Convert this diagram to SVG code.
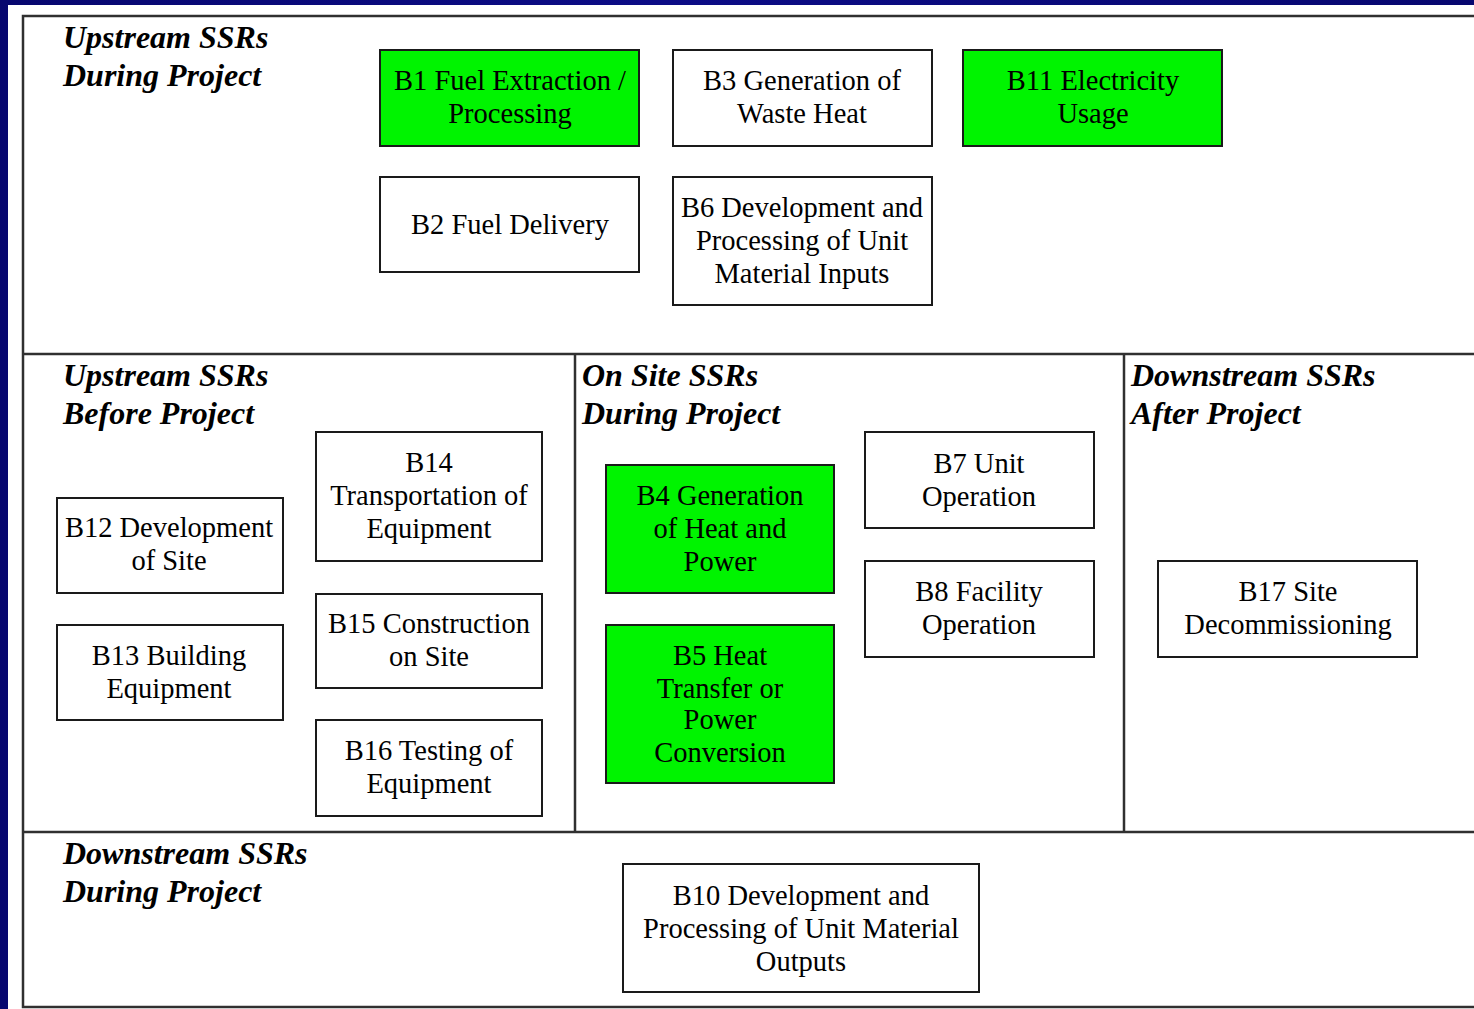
<svg xmlns="http://www.w3.org/2000/svg" width="1474" height="1009" viewBox="0 0 1474 1009">
  <defs>
    <style>
      .frame { fill: none; stroke: #303030; stroke-width: 2.5; }
      .box { fill: #ffffff; stroke: #1a1a1a; stroke-width: 2; }
      .box.hot { fill: #00f400; }
      .title { font-family: "Liberation Serif", "Times New Roman", serif; font-size: 32px; font-weight: bold; font-style: italic; fill: #000; }
      .lbl { font-family: "Liberation Serif", "Times New Roman", serif; font-size: 28.5px; fill: #000; text-anchor: middle; }
    </style>
    <linearGradient id="sky" x1="0" y1="0" x2="1" y2="0">
      <stop offset="0" stop-color="#07076f"/>
      <stop offset="0.45" stop-color="#0c0c86"/>
      <stop offset="1" stop-color="#07076f"/>
    </linearGradient>
  </defs>

  <!-- slide background and white sheet -->
  <rect x="0" y="0" width="1474" height="1009" fill="url(#sky)"/>
  <rect x="8" y="5" width="1466" height="1004" fill="#ffffff"/>

  <!-- zone frame -->
  <g id="zones">
    <rect class="frame" x="23" y="16" width="1470" height="991"/>
    <line class="frame" x1="23" y1="354" x2="1474" y2="354"/>
    <line class="frame" x1="23" y1="832" x2="1474" y2="832"/>
    <line class="frame" x1="575" y1="354" x2="575" y2="832"/>
    <line class="frame" x1="1124" y1="354" x2="1124" y2="832"/>
  </g>

  <!-- zone titles -->
  <g id="zone-titles">
    <text class="title" x="63" y="48">Upstream SSRs</text>
    <text class="title" x="63" y="86">During Project</text>
    <text class="title" x="63" y="386">Upstream SSRs</text>
    <text class="title" x="63" y="424">Before Project</text>
    <text class="title" x="582" y="386">On Site SSRs</text>
    <text class="title" x="582" y="424">During Project</text>
    <text class="title" x="1131" y="386">Downstream SSRs</text>
    <text class="title" x="1131" y="424">After Project</text>
    <text class="title" x="63" y="864">Downstream SSRs</text>
    <text class="title" x="63" y="902">During Project</text>
  </g>

  <!-- no connectors are drawn between the boxes -->
  <g id="connectors"/>

  <g id="B1">
    <rect class="box hot" x="380" y="50" width="259" height="96"/>
    <text class="lbl" x="510" y="90">B1 Fuel Extraction /</text>
    <text class="lbl" x="510" y="123">Processing</text>
  </g>
  <g id="B3">
    <rect class="box" x="673" y="50" width="259" height="96"/>
    <text class="lbl" x="802" y="90">B3 Generation of</text>
    <text class="lbl" x="802" y="123">Waste Heat</text>
  </g>
  <g id="B11">
    <rect class="box hot" x="963" y="50" width="259" height="96"/>
    <text class="lbl" x="1093" y="90">B11 Electricity</text>
    <text class="lbl" x="1093" y="123">Usage</text>
  </g>
  <g id="B2">
    <rect class="box" x="380" y="177" width="259" height="95"/>
    <text class="lbl" x="510" y="234">B2 Fuel Delivery</text>
  </g>
  <g id="B6">
    <rect class="box" x="673" y="177" width="259" height="128"/>
    <text class="lbl" x="802" y="217">B6 Development and</text>
    <text class="lbl" x="802" y="250">Processing of Unit</text>
    <text class="lbl" x="802" y="283">Material Inputs</text>
  </g>

  <g id="B12">
    <rect class="box" x="57" y="498" width="226" height="95"/>
    <text class="lbl" x="169" y="537">B12 Development</text>
    <text class="lbl" x="169" y="570">of Site</text>
  </g>
  <g id="B13">
    <rect class="box" x="57" y="625" width="226" height="95"/>
    <text class="lbl" x="169" y="665">B13 Building</text>
    <text class="lbl" x="169" y="698">Equipment</text>
  </g>
  <g id="B14">
    <rect class="box" x="316" y="432" width="226" height="129"/>
    <text class="lbl" x="429" y="472">B14</text>
    <text class="lbl" x="429" y="505">Transportation of</text>
    <text class="lbl" x="429" y="538">Equipment</text>
  </g>
  <g id="B15">
    <rect class="box" x="316" y="594" width="226" height="94"/>
    <text class="lbl" x="429" y="633">B15 Construction</text>
    <text class="lbl" x="429" y="666">on Site</text>
  </g>
  <g id="B16">
    <rect class="box" x="316" y="720" width="226" height="96"/>
    <text class="lbl" x="429" y="760">B16 Testing of</text>
    <text class="lbl" x="429" y="793">Equipment</text>
  </g>

  <g id="B4">
    <rect class="box hot" x="606" y="465" width="228" height="128"/>
    <text class="lbl" x="720" y="505">B4 Generation</text>
    <text class="lbl" x="720" y="538">of Heat and</text>
    <text class="lbl" x="720" y="571">Power</text>
  </g>
  <g id="B5">
    <rect class="box hot" x="606" y="625" width="228" height="158"/>
    <text class="lbl" x="720" y="665">B5 Heat</text>
    <text class="lbl" x="720" y="698">Transfer or</text>
    <text class="lbl" x="720" y="729">Power</text>
    <text class="lbl" x="720" y="762">Conversion</text>
  </g>
  <g id="B7">
    <rect class="box" x="865" y="432" width="229" height="96"/>
    <text class="lbl" x="979" y="473">B7 Unit</text>
    <text class="lbl" x="979" y="506">Operation</text>
  </g>
  <g id="B8">
    <rect class="box" x="865" y="561" width="229" height="96"/>
    <text class="lbl" x="979" y="601">B8 Facility</text>
    <text class="lbl" x="979" y="634">Operation</text>
  </g>

  <g id="B17">
    <rect class="box" x="1158" y="561" width="259" height="96"/>
    <text class="lbl" x="1288" y="601">B17 Site</text>
    <text class="lbl" x="1288" y="634">Decommissioning</text>
  </g>

  <g id="B10">
    <rect class="box" x="623" y="864" width="356" height="128"/>
    <text class="lbl" x="801" y="905">B10 Development and</text>
    <text class="lbl" x="801" y="938">Processing of Unit Material</text>
    <text class="lbl" x="801" y="971">Outputs</text>
  </g>
</svg>
